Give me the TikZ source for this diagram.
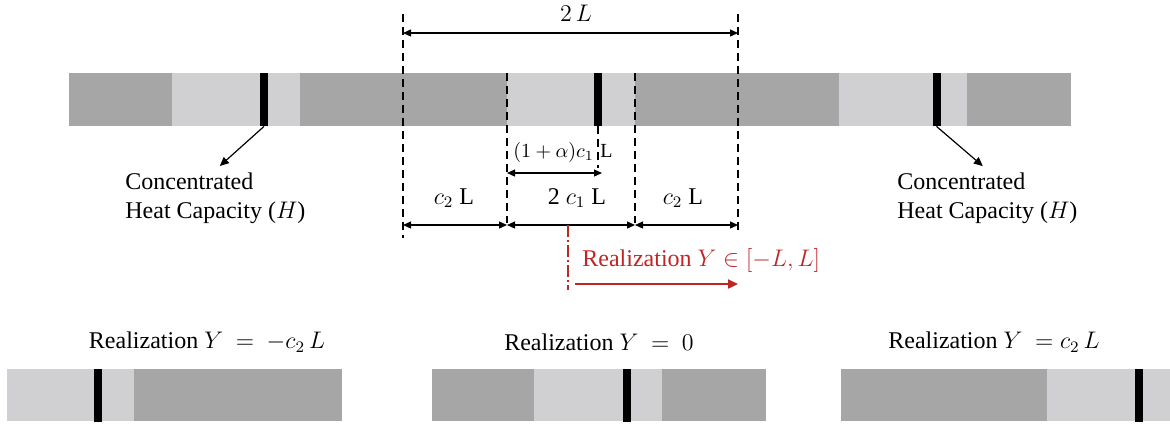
\documentclass[12pt,tikz,border=0pt]{standalone}
\usepackage{fontspec}
\setmainfont{Liberation Serif}
\usetikzlibrary{arrows.meta,positioning}
\definecolor{barDark}{RGB}{166,166,166}
\definecolor{barLight}{RGB}{208,207,209}
\definecolor{realRed}{RGB}{190,38,38}

\begin{document}
\begin{tikzpicture}[
  x=0.5pt, y=-0.5pt,
  font=\normalsize,
  dark/.style={fill=barDark},
  light/.style={fill=barLight},
  hcap/.style={fill=black, inner sep=0pt, minimum width=4pt, minimum height=26.5pt},
  guide/.style={dash pattern=on 4pt off 2.5pt, line width=0.6pt},
  dim/.style={{Triangle[length=4pt,width=3.5pt]}-{Triangle[length=4pt,width=3.5pt]}, line width=0.6pt},
  ptr/.style={-{Triangle[length=4.5pt,width=4pt]}, line width=0.6pt, shorten >=3pt},
  heat/.style={align=left, inner sep=1pt}
]
\useasboundingbox (0,0) rectangle (1170,425);

% main strip
\fill[dark]  (69,73)  rectangle (172,126);
\fill[light] (172,73) rectangle (300,126);
\fill[dark]  (300,73) rectangle (507,126);
\fill[light] (507,73) rectangle (635,126);
\fill[dark]  (635,73) rectangle (839,126);
\fill[light] (839,73) rectangle (967,126);
\fill[dark]  (967,73) rectangle (1071,126);
\node[hcap] (capL) at (264,99.5) {};
\node[hcap] (capM) at (597.5,99.5) {};
\node[hcap] (capR) at (936.5,99.5) {};

% guides
\coordinate (g1t) at (403,14);  \coordinate (g1b) at (403,238);
\coordinate (g2t) at (507,73);  \coordinate (g2b) at (507,223);
\coordinate (g3t) at (598,126); \coordinate (g3b) at (598,168);
\coordinate (g4t) at (635,73);  \coordinate (g4b) at (635,223);
\coordinate (g5t) at (738,14);  \coordinate (g5b) at (738,232);
\foreach \g in {g1,g2,g3,g4,g5}
  \draw[guide] (\g t) -- (\g b);

% dimensions
\coordinate (w1) at (403,33);  \coordinate (w2) at (738,33);
\coordinate (a1) at (507,173); \coordinate (a2) at (602,173);
\coordinate (d1) at (403,225); \coordinate (d2) at (507,225);
\coordinate (d3) at (635,225); \coordinate (d4) at (738,225);
\draw[dim] (w1) -- (w2);
\draw[dim] (a1) -- (a2);
\draw[dim] (d1) -- (d2);
\draw[dim] (d2) -- (d3);
\draw[dim] (d3) -- (d4);

\node (twoL) at (576,13) {$2\,L$};
\node[font=\footnotesize] (alphaL) at (563,152) {$(1+\alpha)c_1$\,\,L};
\node (cLeft) at (454,198) {$c_2$ L};
\node (cMid) at (577,198) {2 $c_1$ L};
\node (cRight) at (683,198) {$c_2$ L};

% realization range
\coordinate (ys) at (568,225); \coordinate (ye) at (568,290);
\coordinate (r1) at (575,284); \coordinate (r2) at (738,284);
\draw[realRed, line width=0.6pt, dash pattern=on 6pt off 1.5pt on 1pt off 1.5pt] (ys) -- (ye);
\draw[realRed, line width=1.1pt, -{Triangle[length=5pt,width=4.5pt]}] (r1) -- (r2);
\node[realRed, anchor=west, inner sep=0pt] (range) at (582,260) {Realization $Y\in[-L,L]$};

% heat capacity labels
\node[heat, anchor=north west] (heatL) at (123,170) {Concentrated\\Heat Capacity ($H$)};
\node[heat, anchor=north west] (heatR) at (895,170) {Concentrated\\Heat Capacity ($H$)};
\draw[ptr] (capL.south) -- (heatL.north);
\draw[ptr] (capR.south) -- (heatR.north);

% realizations
\fill[light] (7,369)   rectangle (134,421);
\fill[dark]  (134,369) rectangle (342,421);
\node[hcap] (capA) at (98,395) {};
\fill[dark]  (432,369) rectangle (534,421);
\fill[light] (534,369) rectangle (662,421);
\fill[dark]  (662,369) rectangle (766,421);
\node[hcap] (capB) at (627,395) {};
\fill[dark]  (841,369)  rectangle (1047,421);
\fill[light] (1047,369) rectangle (1170,421);
\node[hcap] (capC) at (1139,395) {};

\node (realA) at (207,342) {Realization $Y\ =\ -c_2\,L$};
\node (realB) at (599,342) {Realization $Y\ =\ 0$};
\node (realC) at (994,342) {Realization $Y\ =c_2\,L$};

\end{tikzpicture}
\end{document}
